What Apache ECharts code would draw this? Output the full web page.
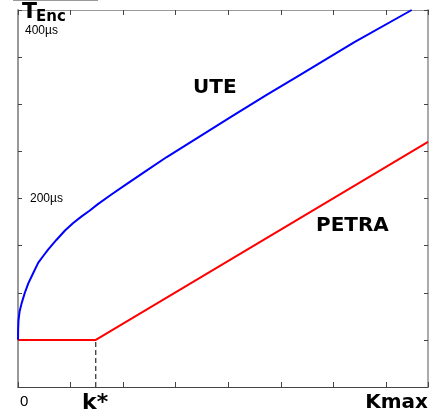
<!DOCTYPE html>
<html>
<head>
<meta charset="utf-8">
<script src="https://cdn.jsdelivr.net/npm/echarts@6/dist/echarts.min.js"></script>
<style>html,body{margin:0;padding:0;background:#fff;}#c{width:440px;height:417px;}</style>
</head>
<body>
<div id="c"></div>
<script>
// Data (x in arbitrary k units, y in µs)
const uteX = [0, 0.003, 0.01, 0.03, 0.07, 0.13, 0.196, 0.29, 0.386, 0.48, 0.576, 0.73, 0.894, 1.05, 1.211, 1.36, 1.52, 1.77, 2.03, 2.43, 2.83, 3.46, 4.09, 4.73, 5.36, 6.4, 7.49];
const uteY = [50, 62, 71, 80, 89, 100, 110, 121, 132, 139, 146, 156, 166, 174, 181, 187, 194, 204, 214, 229, 244, 266, 288, 310, 331, 366, 400];
const petraX = [0, 1.48, 7.8];
const petraY = [50, 50, 260];
const kStar = 1.48;
const kMax = 7.8;
const yTickLabels = {200: '200µs'};
const yTopLabel = '400µs';

const chart = echarts.init(document.getElementById('c'), null, {renderer: 'canvas'});
const ute = uteX.map((x, i) => [x, uteY[i]]);
const petra = petraX.map((x, i) => [x, petraY[i]]);
const dash = [[kStar, 0], [kStar, petraY[1]]];

const bold = 'DejaVu Sans';
chart.setOption({
  animation: false,
  grid: {left: 18, right: 12, top: 10, bottom: 30},
  xAxis: [
    {type: 'value', min: 0, max: kMax, interval: 1, position: 'bottom',
     axisLine: {onZero: false, lineStyle: {color: '#444', width: 1}},
     axisTick: {inside: true, length: 5, lineStyle: {color: '#444'}},
     axisLabel: {show: false}, splitLine: {show: false}},
    {type: 'value', min: 0, max: kMax, interval: 1, position: 'top',
     axisLine: {onZero: false, lineStyle: {color: '#999', width: 1}},
     axisTick: {inside: true, length: 5, lineStyle: {color: '#444'}},
     axisLabel: {show: false}, splitLine: {show: false}}
  ],
  yAxis: [
    {type: 'value', min: 0, max: 400, interval: 50, position: 'left',
     axisLine: {onZero: false, lineStyle: {color: '#999', width: 2}},
     axisTick: {inside: true, length: 4, lineStyle: {color: '#444'}},
     axisLabel: {inside: true, margin: 12, color: '#000', fontSize: 12, fontFamily: 'Liberation Sans',
       formatter: v => yTickLabels[v] || ''},
     splitLine: {show: false}},
    {type: 'value', min: 0, max: 400, interval: 50, position: 'right',
     axisLine: {onZero: false, lineStyle: {color: '#aaa', width: 2}},
     axisTick: {inside: true, length: 4, lineStyle: {color: '#444'}},
     axisLabel: {show: false}, splitLine: {show: false}}
  ],
  series: [
    {type: 'line', data: dash, showSymbol: false, lineStyle: {color: '#000', width: 1, type: [5, 3]}, z: 1},
    {type: 'line', data: petra, showSymbol: false, lineStyle: {color: '#ff0000', width: 2}, z: 3},
    {type: 'line', data: ute, showSymbol: false, smooth: false, lineStyle: {color: '#0000ff', width: 2, join: 'round'}, z: 4}
  ],
  graphic: [
    {type: 'rect', shape: {x: 19, y: 0, width: 51, height: 9.5}, style: {fill: '#fff'}, z: 100},
    {type: 'line', shape: {x1: 13, y1: 0.5, x2: 98, y2: 0.5}, style: {stroke: '#999', lineWidth: 1}, z: 101},
    {type: 'text', left: 22, top: 1, style: {text: 'T', font: 'bold 22px ' + bold, fill: '#000'}, z: 101},
    {type: 'text', left: 36, top: 10, style: {text: 'Enc', font: 'bold 15px ' + bold, fill: '#000'}, z: 101},
    {type: 'text', left: 25, top: 25, style: {text: yTopLabel, font: '12px Liberation Sans', fill: '#000'}, z: 101},
    {type: 'text', left: 193, top: 78, style: {text: 'UTE', font: 'bold 20px ' + bold, fill: '#000'}, z: 101},
    {type: 'text', left: 316, top: 216, style: {text: 'PETRA', font: 'bold 20px ' + bold, fill: '#000'}, z: 101},
    {type: 'text', left: 20, top: 394, style: {text: '0', font: '15px Liberation Sans', fill: '#000'}, z: 101},
    {type: 'text', left: 82, top: 392, style: {text: 'k*', font: 'bold 22px ' + bold, fill: '#000'}, z: 101},
    {type: 'text', right: 12, top: 393, style: {text: 'Kmax', font: 'bold 20px ' + bold, fill: '#000'}, z: 101}
  ]
});
</script>
</body>
</html>
